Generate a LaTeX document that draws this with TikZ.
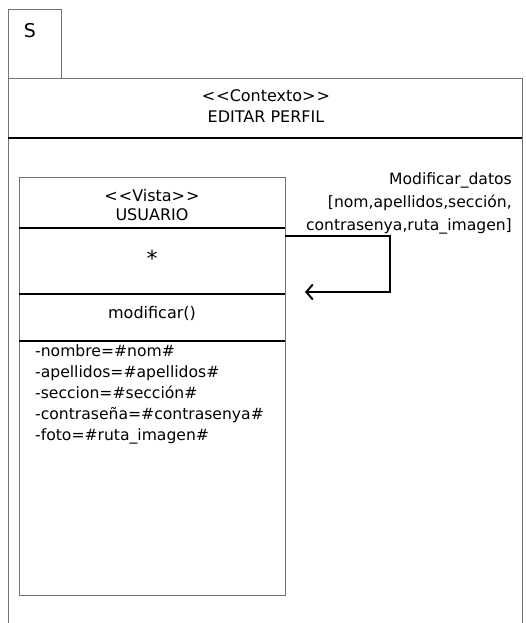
\documentclass[tikz,border=0pt]{standalone}
\usepackage{fontspec}
\setmainfont{DejaVu Sans}
\usetikzlibrary{arrows.meta}
\begin{document}
\begin{tikzpicture}[x=1pt,y=-1pt,
  frameline/.style={draw=black!55, line width=0.9pt},
  sepline/.style={draw=black, line width=1.8pt},
  txt/.style={inner sep=0pt, font=\fontsize{16}{20}\selectfont},
  flow/.style={draw=black, line width=1.9pt, -{Straight Barb[length=6.5pt,width=15pt,line width=1.9pt]}}]
\useasboundingbox (0,0) rectangle (525,623);
\fill[white] (0,0) rectangle (525,623);

% package tab and frame
\node[frameline, minimum width=53pt, minimum height=69pt, inner sep=0pt, anchor=north west] (tab) at (8,9) {};
\node[inner sep=0pt, font=\fontsize{19}{22}\selectfont] (tabname) at (30,31) {S};
\draw[frameline] (8,625) -- (8,78) -- (522,78) -- (522,625);

% context header
\node[txt, align=center, font=\fontsize{16}{21}\selectfont] (ctx) at (266,106) {<\kern1pt<Contexto>\kern1pt>\\EDITAR PERFIL};
\coordinate (hl) at (8,138);
\coordinate (hr) at (522,138);
\draw[sepline] (hl) -- (hr);

% view class box
\node[frameline, minimum width=266pt, minimum height=418pt, inner sep=0pt, anchor=north west] (vista) at (19,177) {};
\draw[sepline] (19,228) -- (285,228);
\draw[sepline, line width=1.5pt] (19,294) -- (285,294);
\draw[sepline, line width=1.5pt] (19,341) -- (285,341);

\node[txt, align=center, font=\fontsize{16}{19}\selectfont] (vname) at (152,205) {<\kern1pt<Vista>\kern1pt>\\USUARIO};
\node[txt, font=\fontsize{22}{22}\selectfont] (star) at (152,258) {*};
\node[txt] (op) at (152,313) {modificar()};
\node[txt, align=left, anchor=north west, font=\fontsize{15.6}{21.2}\selectfont] (attrs) at (35,344) {-nombre=\#nom\#\\-apellidos=\#apellidos\#\\-seccion=\#sección\#\\-contraseña=\#contrasenya\#\\-foto=\#ruta\_imagen\#};

% self transition
\coordinate (src) at (285,236);
\coordinate (c1) at (390,236);
\coordinate (c2) at (390,292);
\coordinate (dst) at (305,292);
\draw[flow] (src) -- (c1) -- (c2) -- (dst);
\node[txt, align=right, anchor=north east, font=\fontsize{15.6}{23}\selectfont] (lbl) at (512,172) {Modificar\_datos\\{}[nom,apellidos,sección,\\contrasenya,ruta\_imagen]};
\end{tikzpicture}
\end{document}
